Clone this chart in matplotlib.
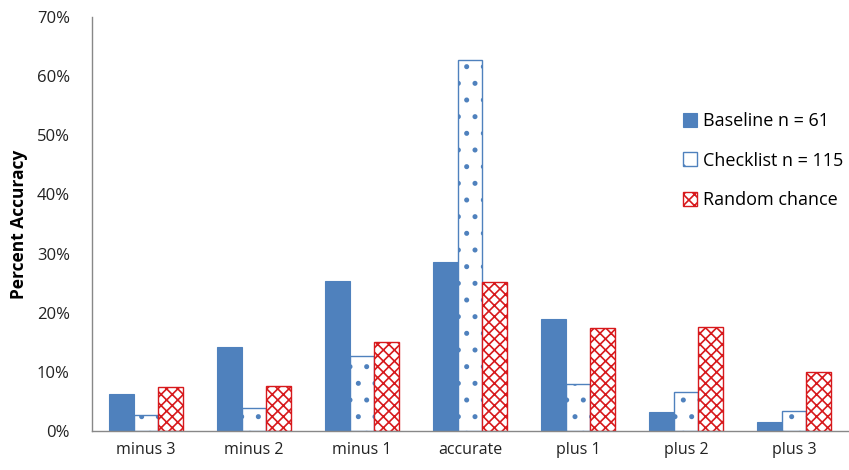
import matplotlib
matplotlib.use("Agg")
import matplotlib.pyplot as plt
import numpy as np
from matplotlib.ticker import PercentFormatter

categories = ["minus 3", "minus 2", "minus 1", "accurate", "plus 1", "plus 2", "plus 3"]
baseline = [6.3, 14.2, 25.4, 28.6, 19.0, 3.2, 1.6]
checklist = [2.7, 3.9, 12.7, 62.8, 8.0, 6.6, 3.4]
random_chance = [7.4, 7.6, 15.0, 25.2, 17.4, 17.6, 10.0]
series_labels = ["Baseline n = 61", "Checklist n = 115", "Random chance"]

plt.rcParams['font.family'] = ['Open Sans', 'DejaVu Sans']
plt.rcParams['hatch.linewidth'] = 1.2

fig = plt.figure(figsize=(8.49, 4.70), dpi=100)
ax = fig.add_axes([92/849, 1-431/470, (848-92)/849, (431-17)/470])

x = np.arange(len(categories))
w = 0.23
blue = "#4F81BD"
red = "#D7191C"
ax.bar(x - w, baseline, w, color=blue, edgecolor=blue, linewidth=0.8, label=series_labels[0])
ax.bar(x, checklist, w, color="white", edgecolor=blue, hatch=".", linewidth=1.0, label=series_labels[1])
ax.bar(x + w, random_chance, w, color="white", edgecolor=red, hatch="xxx", linewidth=1.0, label=series_labels[2])

ax.set_xlim(-0.5, len(categories) - 0.5)
ax.set_ylim(0, 70)
ax.set_yticks(np.arange(0, 71, 10))
ax.yaxis.set_major_formatter(PercentFormatter(decimals=0))
ax.set_xticks(x)
ax.set_xticklabels(categories)
ax.tick_params(axis='x', length=0, labelsize=11.5, pad=8)
ax.tick_params(axis='y', length=0, labelsize=12, pad=16)
for lab in ax.get_yticklabels() + ax.get_xticklabels():
    lab.set_color("#222222")
ax.set_ylabel("Percent Accuracy", fontsize=12.5, fontweight='bold', labelpad=6)
for s in ["top", "right"]:
    ax.spines[s].set_visible(False)
for s in ["left", "bottom"]:
    ax.spines[s].set_color("#888888")
    ax.spines[s].set_linewidth(1.0)

leg = ax.legend(loc="upper left", bbox_to_anchor=(0.76, 0.81), frameon=False,
                fontsize=13, labelspacing=1.2, handlelength=0.8, handleheight=0.8,
                handletextpad=0.3)

fig.savefig("out.png", dpi=100)
